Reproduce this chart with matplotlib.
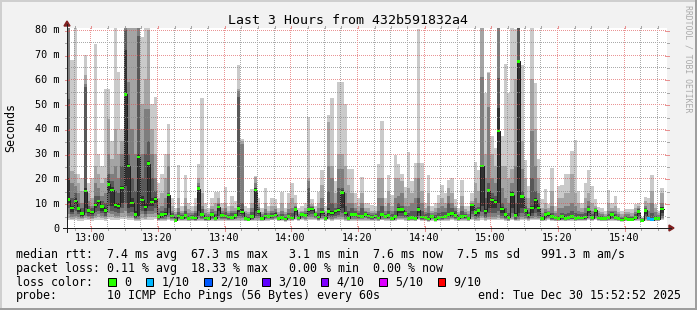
import numpy as np
import matplotlib
matplotlib.use("Agg")
import matplotlib.pyplot as plt
from matplotlib.lines import Line2D
from matplotlib.patches import Polygon, Rectangle

nan = float("nan")

# ---------------- data ----------------
title = "Last 3 Hours from 432b591832a4"
start_time = "12:53"          # first one-minute sample
time_ticks = ["13:00", "13:20", "13:40", "14:00", "14:20", "14:40", "15:00", "15:20", "15:40"]
value_ticks = [0, 10, 20, 30, 40, 50, 60, 70, 80]
value_tick_labels = ["0", "10 m", "20 m", "30 m", "40 m", "50 m", "60 m", "70 m", "80 m"]
y_top = 80.8

# median rtt per minute (ms)
med = [
    11.5, 8.0, 11.0, 7.8, 5.8, 15.0, 7.0, 6.5, 9.3, 11.0, 8.6, 7.0, 17.6, 15.4, 9.2, 8.9, 16.2, 54.0, 25.0, 10.0, 5.4, 28.7, 11.4, 8.5, 26.0, 10.6, 11.7, 4.6, 5.4, 5.7,
    13.3, 4.8, 3.1, 4.8, 4.2, 5.0, 3.9, 4.2, 4.0, 15.9, 5.4, 4.0, 3.8, 5.4, 3.9, 8.5, 5.1, 4.8, 4.4, 4.2, 5.1, 7.8, 6.5, 3.9, 3.5, 4.6, 15.4, 6.6, 3.8, 4.8,
    4.6, 4.8, 5.3, 3.8, 4.2, 3.6, 4.6, 4.0, 7.4, 4.0, 5.4, 5.1, 7.4, 7.7, 5.4, 4.4, 6.5, 3.9, 6.7, 6.0, 6.8, 7.3, 14.4, 6.0, 3.9, 5.4, 5.4, 4.8, 4.7, 5.5,
    4.8, 4.4, 4.8, 4.0, 5.4, 4.6, 5.0, 3.8, 4.7, 7.4, 7.4, 5.8, 3.9, 4.2, 3.9, 7.4, 4.4, 4.2, 3.6, 4.6, 3.5, 4.2, 4.4, 4.7, 5.4, 5.9, 5.1, 3.9, 4.6, 4.8,
    3.9, 9.3, 6.2, 7.1, 25.0, 6.9, 15.1, 11.3, 10.6, 39.2, 7.7, 5.4, 4.3, 13.5, 5.0, 67.3, 12.8, 7.1, 5.3, 8.1, 11.4, 8.1, 3.8, 5.4, 5.8, 4.7, 4.2, 3.8, 4.7, 3.9,
    4.3, 4.6, 3.9, 4.2, 4.0, 4.4, 7.4, 4.2, 7.1, 4.0, 3.8, 3.9, 4.2, 5.4, 4.3, 3.8, 3.2, 3.8, 3.5, 3.5, 4.2, 6.6, 3.1, 7.1, 3.9, 3.4, 3.9, 3.8, 7.7, nan,
]

# lost pings (out of 10) per minute
loss = [
    0, 0, 0, 0, 0, 0, 0, 0, 0, 0, 0, 0, 0, 0, 0, 0, 0, 0, 0, 0, 0, 0, 0, 0, 0, 0, 0, 0, 0, 0,
    0, 0, 0, 0, 0, 0, 0, 0, 0, 0, 0, 0, 0, 0, 0, 0, 0, 0, 0, 0, 0, 0, 0, 0, 0, 0, 0, 0, 0, 0,
    0, 0, 0, 0, 0, 0, 0, 0, 0, 0, 0, 0, 0, 0, 0, 0, 0, 0, 0, 0, 0, 0, 0, 0, 0, 0, 0, 0, 0, 0,
    0, 0, 0, 0, 0, 0, 0, 0, 0, 0, 0, 0, 0, 0, 0, 0, 0, 0, 0, 0, 0, 0, 0, 0, 0, 0, 0, 0, 0, 0,
    0, 0, 0, 0, 0, 0, 0, 0, 0, 0, 0, 0, 0, 0, 0, 0, 0, 0, 0, 0, 0, 0, 0, 0, 0, 0, 0, 0, 0, 0,
    0, 0, 0, 0, 0, 0, 0, 0, 0, 0, 0, 0, 0, 0, 0, 0, 0, 0, 0, 0, 0, 0, 0, 0, 1, 1, 0, 0, 0, 0,
]

# sorted ping values (smoke): upper half p10..p6, lower half p1..p5
p10 = [
    95, 68, 90, 22, 20, 70, 18, 20, 74.5, 30, 25, 56, 56, 35, 85, 63, 40, 95, 95, 95, 95, 95, 77, 90, 90, 50, 53, 18, 22, 30,
    42, 12, 8, 25.5, 9, 21.4, 10, 9, 12, 25.7, 52.7, 10, 8, 12, 14.7, 14.7, 10, 16.6, 9, 13, 11, 66, 36, 9, 8, 15.6, 21, 12, 8, 16,
    9, 12.3, 11.6, 8, 14.7, 8, 14.3, 18.3, 13.3, 8, 9, 10.2, 45, 11.6, 9, 14.5, 23.4, 9, 45.5, 52.7, 19, 59, 59, 50, 23.7, 23.7, 14.3, 12.3, 20.7, 10,
    10.2, 9.3, 9, 26, 43.2, 12, 21.4, 13.3, 29.5, 25.7, 21.7, 16.6, 30.7, 19, 26.4, 80.5, 26.4, 10.2, 21.4, 9, 10.2, 13.3, 17.2, 14.3, 19.4, 20, 11.6, 8, 19.4, 9,
    8.9, 14.3, 26.7, 23.4, 95, 54.7, 63, 37, 32.5, 95, 37, 66.4, 54.7, 95, 80.5, 95, 66, 27.3, 17, 95, 58.7, 27.7, 11.6, 15.6, 9.6, 24.4, 8.9, 17, 17.5, 21.7,
    22, 31, 35.6, 15, 10.2, 18.3, 23.4, 17, 11.6, 8.5, 8, 6.8, 15.4, 10.2, 12.9, 8, 7, 7.8, 7.5, 7.5, 9.6, 10, 4.5, 12.5, 12, 21.4, 9.6, 6.8, 16, nan,
]
p9 = [
    92, 23, 22, 18, 15, 62, 14, 12, 25, 22, 18, 20, 44, 28, 40, 30, 35, 90, 88, 85, 82, 90, 50, 60, 80, 40, 30, 12, 14, 20,
    30, 9, 6.5, 12, 7, 12, 7.5, 7, 9, 20, 14, 7.5, 6.5, 9, 10, 12, 8, 10, 7, 9, 8, 56, 35, 7, 6.5, 10, 20.5, 10, 6.5, 10,
    7, 9, 9, 6.5, 10, 6.5, 10, 12, 10, 6.5, 7, 8, 20, 9.5, 7, 10, 17.4, 7, 42.8, 25, 14, 30, 30, 25, 17.4, 14, 10, 9, 14, 8,
    8, 7, 7, 20, 20, 9, 15, 9, 20, 20, 19, 12, 16, 14, 20, 26.4, 15, 8, 14, 7, 8, 10, 12, 10, 16, 14, 9, 6.5, 13, 7.5,
    7, 11, 18, 15, 92, 30, 62.8, 30, 25, 92, 25, 25, 20, 23.7, 60, 93, 35, 20, 12, 60, 40, 20, 8, 10, 8, 15, 7, 12, 12, 14,
    14, 22, 14, 10, 8, 12, 14, 10, 9, 7, 6.5, 5.8, 10, 8, 9, 6.5, 5.5, 6.5, 6.5, 6, 8, 9, 4.2, 11, 10, 15, 8, 6, 14, nan,
]
p8 = [
    88, 18, 17, 14, 10, 58, 11, 9, 18, 16, 13, 14, 30, 22, 25, 20, 30, 85, 59, 40, 30, 85, 30, 48, 48, 30, 20, 8, 9, 12,
    25, 7, 5.5, 8, 6, 9, 6, 6, 7, 18, 9, 6, 5.5, 7.5, 7, 10, 7, 8, 6, 7, 7, 55.3, 34, 6, 5.5, 8, 18, 8.5, 5.5, 7.5,
    6, 7, 7.5, 5.5, 7, 5.5, 7.5, 8, 9, 5.5, 6.5, 7, 19, 9, 6.5, 8, 12, 5.5, 25, 20, 10, 24, 23.7, 14, 10, 10, 8, 7, 10, 7,
    6.5, 6, 6, 12, 12, 7, 10, 7, 12, 13, 14, 9, 9, 10, 12, 20, 10, 6.5, 9, 6, 6.5, 8, 9, 8, 13, 10, 8, 5.5, 9, 6.5,
    5.5, 10, 12, 10, 61, 20, 49, 20, 18, 88, 16, 12, 10, 18, 25, 90, 23.7, 12, 8, 39, 25, 14, 6, 7.5, 7, 9, 6, 8, 8, 9,
    9, 10, 9, 7, 6.5, 8, 11, 7, 8, 6, 5.5, 5, 7, 7, 7, 5.5, 4.5, 5.5, 5.5, 5, 6.5, 8, 4, 9, 7, 10, 6.5, 5.2, 10, nan,
]
p7 = [
    52, 12, 14, 10, 8, 57, 9, 8, 13, 13, 11, 10, 22, 19, 15, 14, 25, 80, 30, 20, 15, 77.6, 20, 30, 35, 20, 15, 6, 7, 8,
    14, 6, 4.5, 6.5, 5.2, 7, 5, 5.2, 6, 17, 7.5, 5, 4.8, 6.5, 5.5, 9.5, 6, 6.5, 5.2, 6, 6, 53, 10, 5, 4.6, 6.5, 16, 7.5, 4.8, 6,
    5.3, 6, 6.3, 4.6, 5.5, 4.4, 6, 6, 8.3, 4.8, 6, 6, 16, 8.5, 6.2, 6, 8, 4.8, 15, 10, 8, 16, 16, 9, 7, 8, 7, 6, 8, 6.3,
    5.6, 5.2, 5.5, 7, 9, 5.8, 7, 5.5, 7, 10, 9, 7, 6, 7, 7, 12, 7, 5.5, 6, 5.3, 5.3, 6, 6.5, 6.5, 10, 8, 7, 4.8, 7, 5.8,
    4.6, 9.8, 8, 8.5, 25.5, 12, 18, 14, 13, 60.5, 10, 8, 6, 15, 10, 88, 15, 9, 6.5, 20, 15, 10, 4.8, 6.5, 6.5, 6, 5, 5, 6, 5.5,
    6, 7, 6, 5.5, 5.5, 6, 9, 5.5, 7.5, 5, 4.8, 4.6, 5.5, 6.5, 5.5, 4.8, 4, 4.8, 4.5, 4.5, 5.5, 7.5, 3.7, 8, 5, 6, 5, 4.6, 8.5, nan,
]
p6 = [
    20, 9, 12, 8.5, 6.5, 16, 7.5, 7, 10, 11.5, 9, 8, 19, 16.5, 10, 10, 17, 72, 26, 12, 7, 30, 13, 10, 27, 12, 12.5, 5, 6, 6.5,
    13.5, 5.3, 3.6, 5.3, 4.6, 5.6, 4.4, 4.6, 4.5, 16.5, 6, 4.4, 4.2, 5.9, 4.3, 9, 5.5, 5.3, 4.8, 4.7, 5.6, 9, 7.5, 4.3, 4, 5.1, 16, 7, 4.2, 5.3,
    5.0, 5.3, 5.9, 4.2, 4.7, 4.0, 5.1, 4.5, 8, 4.4, 5.8, 5.6, 8, 8.2, 5.9, 4.9, 7, 4.3, 8, 7, 7.3, 8, 15.5, 6.5, 4.4, 6, 6, 5.3, 5.2, 6,
    5.3, 4.9, 5.3, 4.5, 6, 5.1, 5.6, 4.3, 5.2, 8.5, 8, 6.4, 4.4, 4.7, 4.4, 8.5, 4.9, 4.7, 4.1, 5.1, 4.0, 4.7, 4.9, 5.2, 6, 6.5, 5.7, 4.4, 5.1, 5.3,
    4.3, 9.5, 6.8, 7.7, 25.2, 7.5, 15.8, 12, 11.5, 48.5, 8.3, 6, 5, 14.5, 6, 67.5, 13.5, 7.7, 5.8, 9, 12, 8.8, 4.2, 5.9, 6.2, 5.1, 4.6, 4.1, 5.1, 4.3,
    5, 5.2, 4.4, 4.8, 4.6, 5, 8, 4.8, 7.5, 4.6, 4.3, 4.4, 4.8, 6, 4.9, 4.3, 3.7, 4.3, 4.0, 4.0, 4.8, 7.2, 3.4, 7.7, 4.5, 4.0, 4.5, 4.3, 8.3, nan,
]
p5 = [
    10, 6.5, 9.5, 6.5, 5, 8, 6, 5.5, 8, 9.5, 7, 6, 14, 9, 8, 7.5, 10, 17, 8, 8.5, 4.5, 5, 9, 7, 9, 9, 10, 4, 4.5, 4.8,
    8, 4.4, 3.3, 4.4, 3.9, 4.4, 3.6, 3.9, 3.6, 7, 4.8, 3.6, 3.5, 4.8, 3.6, 7, 4.6, 4.4, 4.0, 3.8, 4.6, 6.5, 5.5, 3.6, 3.3, 4.2, 7, 5.8, 3.5, 4.4,
    4.2, 4.4, 4.7, 3.5, 3.9, 3.3, 4.2, 3.7, 6.5, 3.7, 4.9, 4.7, 6.5, 7, 4.9, 4.0, 5.8, 3.6, 5.8, 5.3, 6, 6.4, 8, 5.3, 3.6, 4.8, 4.8, 4.3, 4.3, 5.0,
    4.4, 4.0, 4.4, 3.7, 4.8, 4.2, 4.5, 3.5, 4.3, 6, 6, 5.1, 3.6, 3.9, 3.6, 6, 4.0, 3.9, 3.3, 4.2, 3.3, 3.9, 4.0, 4.3, 4.8, 5.2, 4.6, 3.6, 4.2, 4.4,
    3.5, 7, 5, 5.5, 9, 5.5, 8, 8, 8, 10, 6, 4.5, 3.8, 8, 4.3, 6, 8, 6, 4.5, 6, 8, 6.5, 3.5, 4.6, 5, 4.1, 3.8, 3.5, 4.1, 3.6,
    3.9, 4.1, 3.6, 3.9, 3.7, 4.0, 6, 3.9, 6, 3.7, 3.5, 3.6, 3.9, 4.8, 3.9, 3.5, 3.0, 3.5, 3.3, 3.3, 3.8, 5.5, 2.8, 5.5, 3.6, 3.2, 3.6, 3.5, 6, nan,
]
p4 = [
    8, 5.5, 7, 5.5, 4.5, 6, 5, 4.8, 6.5, 7, 6, 5, 9, 7, 6.5, 6, 8, 10, 6, 6.5, 4, 4.3, 7, 5.5, 7, 7, 8, 3.7, 4, 4.3,
    6, 4.0, 3.1, 4.0, 3.6, 4.0, 3.4, 3.6, 3.4, 5, 4.2, 3.4, 3.3, 4.2, 3.4, 5, 4.1, 4.0, 3.7, 3.5, 4.1, 5, 4.6, 3.4, 3.1, 3.8, 5, 4.8, 3.3, 4.0,
    3.9, 4.0, 4.3, 3.3, 3.6, 3.1, 3.9, 3.5, 5.3, 3.5, 4.4, 4.3, 5.3, 5.8, 4.4, 3.7, 4.8, 3.4, 4.8, 4.5, 5, 5.3, 6, 4.5, 3.4, 4.3, 4.3, 3.9, 3.9, 4.4,
    4.0, 3.7, 4.0, 3.5, 4.3, 3.9, 4.1, 3.3, 3.9, 5, 5, 4.5, 3.4, 3.6, 3.4, 5, 3.7, 3.6, 3.1, 3.9, 3.1, 3.6, 3.7, 3.9, 4.3, 4.6, 4.2, 3.4, 3.9, 4.0,
    3.3, 5.5, 4.3, 4.5, 6.5, 4.5, 6, 6, 6, 7, 5, 4, 3.5, 6, 3.8, 4.5, 6, 5, 4, 5, 6, 5, 3.3, 4.1, 4.4, 3.7, 3.5, 3.3, 3.7, 3.4,
    3.6, 3.8, 3.4, 3.6, 3.5, 3.7, 4.8, 3.6, 4.8, 3.5, 3.3, 3.4, 3.6, 4.2, 3.6, 3.3, 2.9, 3.3, 3.1, 3.1, 3.5, 4.5, 2.7, 4.5, 3.4, 3.1, 3.4, 3.3, 4.8, nan,
]
p3 = [
    5.5, 4.5, 5, 4.5, 4, 5, 4.3, 4.2, 5, 5.5, 5, 4.3, 6, 5.5, 5, 5, 6, 7, 5, 5, 3.7, 3.8, 5.5, 4.5, 5.5, 5.5, 6, 3.4, 3.6, 3.8,
    4.5, 3.6, 2.9, 3.6, 3.3, 3.6, 3.2, 3.3, 3.2, 4, 3.7, 3.2, 3.1, 3.7, 3.2, 4, 3.7, 3.6, 3.4, 3.3, 3.7, 4, 3.9, 3.2, 3.0, 3.4, 4, 3.9, 3.1, 3.6,
    3.6, 3.7, 3.9, 3.1, 3.3, 2.9, 3.6, 3.3, 4.3, 3.3, 3.9, 3.8, 4.3, 4.6, 3.9, 3.4, 4.0, 3.2, 4.0, 3.8, 4.1, 4.3, 4.5, 3.8, 3.2, 3.8, 3.8, 3.5, 3.5, 3.9,
    3.6, 3.4, 3.6, 3.2, 3.8, 3.5, 3.7, 3.1, 3.5, 4.2, 4.2, 3.9, 3.2, 3.4, 3.2, 4.2, 3.4, 3.4, 3.0, 3.5, 2.9, 3.4, 3.4, 3.5, 3.8, 4.0, 3.7, 3.2, 3.5, 3.6,
    3.1, 4.3, 3.8, 3.9, 5, 3.9, 4.6, 4.6, 4.6, 5.2, 4.2, 3.6, 3.2, 4.6, 3.4, 3.8, 4.6, 4.2, 3.6, 4.2, 4.6, 4.2, 3.1, 3.7, 3.9, 3.4, 3.3, 3.1, 3.4, 3.2,
    3.3, 3.5, 3.2, 3.4, 3.3, 3.4, 4.0, 3.4, 4.0, 3.3, 3.1, 3.2, 3.4, 3.7, 3.4, 3.1, 2.8, 3.1, 3.0, 3.0, 3.3, 3.8, 2.6, 3.8, 3.2, 3.0, 3.2, 3.1, 4.0, nan,
]
p2 = [
    4, 3.8, 4, 3.8, 3.5, 4, 3.7, 3.6, 4, 4.3, 4, 3.7, 4.5, 4.3, 4, 4, 4.5, 5, 4, 4, 3.3, 3.4, 4.2, 3.8, 4.3, 4.3, 4.5, 3.1, 3.2, 3.3,
    3.8, 3.3, 2.8, 3.3, 3.1, 3.3, 3.0, 3.1, 3.0, 3.4, 3.3, 3.0, 2.9, 3.3, 3.0, 3.4, 3.3, 3.3, 3.1, 3.1, 3.3, 3.4, 3.4, 3.0, 2.9, 3.1, 3.4, 3.4, 2.9, 3.3,
    3.3, 3.4, 3.5, 2.9, 3.1, 2.8, 3.3, 3.1, 3.6, 3.1, 3.5, 3.4, 3.6, 3.8, 3.5, 3.2, 3.5, 3.0, 3.5, 3.3, 3.5, 3.6, 3.7, 3.3, 3.0, 3.4, 3.4, 3.2, 3.2, 3.4,
    3.3, 3.2, 3.3, 3.0, 3.4, 3.2, 3.3, 2.9, 3.2, 3.6, 3.6, 3.4, 3.0, 3.1, 3.0, 3.6, 3.2, 3.1, 2.8, 3.2, 2.8, 3.1, 3.2, 3.2, 3.4, 3.5, 3.3, 3.0, 3.2, 3.3,
    2.9, 3.6, 3.3, 3.4, 4, 3.4, 3.8, 3.8, 3.8, 4.1, 3.6, 3.2, 3.0, 3.8, 3.1, 3.3, 3.8, 3.6, 3.2, 3.6, 3.8, 3.6, 2.9, 3.3, 3.5, 3.1, 3.0, 2.9, 3.1, 2.9,
    3.1, 3.2, 3.0, 3.2, 3.1, 3.2, 3.5, 3.2, 3.5, 3.1, 2.9, 3.0, 3.2, 3.3, 3.2, 2.9, 2.7, 2.9, 2.9, 2.9, 3.1, 3.3, 2.5, 3.3, 3.0, 2.9, 3.0, 2.9, 3.5, nan,
]
p1 = [
    3.2, 3.1, 3.2, 3.0, 3.0, 3.2, 3.1, 3.0, 3.2, 3.4, 3.2, 3.0, 3.5, 3.4, 3.2, 3.2, 3.5, 3.8, 3.2, 3.2, 2.9, 3.0, 3.3, 3.1, 3.4, 3.4, 3.5, 2.8, 2.9, 3.0,
    3.2, 3.0, 2.6, 3.0, 2.9, 3.0, 2.8, 2.9, 2.8, 3.0, 3.0, 2.8, 2.7, 3.0, 2.8, 3.0, 3.0, 3.0, 2.9, 2.9, 3.0, 3.0, 3.0, 2.8, 2.7, 2.9, 3.0, 3.0, 2.7, 3.0,
    3.0, 3.1, 3.1, 2.7, 2.9, 2.6, 3.0, 2.9, 3.1, 2.9, 3.1, 3.0, 3.1, 3.2, 3.1, 2.9, 3.1, 2.8, 3.1, 3.0, 3.1, 3.1, 3.2, 3.0, 2.8, 3.0, 3.0, 2.9, 2.9, 3.0,
    3.0, 2.9, 3.0, 2.8, 3.1, 2.9, 3.0, 2.7, 2.9, 3.2, 3.2, 3.0, 2.8, 2.9, 2.8, 3.2, 2.9, 2.9, 2.6, 2.9, 2.6, 2.9, 2.9, 2.9, 3.0, 3.1, 3.0, 2.8, 2.9, 3.0,
    2.7, 3.1, 2.9, 3.0, 3.3, 3.0, 3.2, 3.2, 3.2, 3.4, 3.1, 2.9, 2.8, 3.2, 2.8, 2.9, 3.2, 3.1, 2.9, 3.1, 3.2, 3.1, 2.7, 3.0, 3.1, 2.8, 2.8, 2.7, 2.8, 2.7,
    2.9, 3.0, 2.8, 3.0, 2.9, 3.0, 3.1, 3.0, 3.1, 2.9, 2.7, 2.8, 3.0, 3.0, 3.0, 2.7, 2.6, 2.7, 2.7, 2.7, 2.9, 3.0, 2.4, 3.0, 2.8, 2.8, 2.8, 2.7, 3.1, nan,
]

loss_labels = ["0", "1/10", "2/10", "3/10", "4/10", "5/10", "9/10"]
loss_colors = ["#26ff00", "#00b8ff", "#0059ff", "#5e00ff", "#7e00ff", "#dd00ff", "#ff0000"]
loss_lo = [0, 1, 2, 3, 4, 5, 9]      # lost-ping range for each legend colour
loss_hi = [0, 1, 2, 3, 4, 8, 10]

rtt_line = "median rtt:  7.4 ms avg  67.3 ms max   3.1 ms min  7.6 ms now  7.5 ms sd   991.3 m am/s"
loss_line = "packet loss: 0.11 % avg  18.33 % max   0.00 % min  0.00 % now"
loss_caption = "loss color:"
probe_caption = "probe:"
probe_text = "10 ICMP Echo Pings (56 Bytes) every 60s"
end_text = "end: Tue Dec 30 15:52:52 2025"
y_label = "Seconds"
watermark = "RRDTOOL / TOBI OETIKER"

# ---------------- style ----------------
W, H = 697, 310
X0, Y0, XS, YS = 67, 228, 600, 200       # graph area in pixels (rrdtool layout)
BACK = "#F2F2F2"
SHADE_A = "#CFCFCF"
SHADE_B = "#9E9E9E"
GRID = (0.56, 0.56, 0.56, 0.75)
MGRID = (0.87, 0.31, 0.31, 0.60)
AXIS = (0.12, 0.12, 0.12)
ARROW = (0.50, 0.12, 0.12)
SMOKE = ["#cacaca", "#a4a4a4", "#7e7e7e", "#585858", "#323232"]
MONO = ["DejaVu Sans Mono"]
PX = 0.72  # one pixel in points at 100 dpi

fig = plt.figure(figsize=(W / 100, H / 100), dpi=100)
fig.patch.set_facecolor(BACK)


def fx(x):
    return x / W


def fy(y):
    return 1 - y / H


def fig_line(xs, ys, color, lw=PX, aa=False):
    fig.add_artist(Line2D([fx(v) for v in xs], [fy(v) for v in ys], color=color,
                          lw=lw, solid_capstyle="butt", antialiased=aa,
                          transform=fig.transFigure))


ax = fig.add_axes([fx(X0), fy(Y0), XS / W, YS / H])
ax.set_facecolor("white")
for s in ax.spines.values():
    s.set_visible(False)
ax.set_xticks([])
ax.set_yticks([])

n = len(med)


def to_min(t):
    h, m = t.split(":")
    return int(h) * 60 + int(m)


t0 = to_min(start_time)
xs_step = np.repeat(np.arange(n + 1), 2)[1:-1]


def steps(v):
    return np.repeat(np.asarray(v, dtype=float), 2)


# smoke layers (outer, light -> inner, dark)
lows = [p1, p2, p3, p4, p5]
highs = [p10, p9, p8, p7, p6]
for k in range(5):
    ax.fill_between(xs_step, steps(lows[k]), steps(highs[k]), color=SMOKE[k],
                    linewidth=0, zorder=2)

# median line
ax.plot(xs_step, steps(med), color="#202020", lw=PX, zorder=3)

# median coloured by loss
half = 1.25 * y_top / YS
med_a = np.asarray(med, dtype=float)
loss_a = np.asarray(loss)
for lo, hi, c in zip(loss_lo, loss_hi, loss_colors):
    sel = np.where((loss_a >= lo) & (loss_a <= hi), med_a, np.nan)
    if np.all(np.isnan(sel)):
        continue
    ax.fill_between(xs_step, steps(sel - half), steps(sel + half), color=c,
                    linewidth=0, zorder=4)

# dotted grid (1 px on / 1 px off), rendered pixel-exact over the graph
grid_img = np.zeros((YS, XS, 4))
total_min = n
first_grid = (5 - (t0 % 5)) % 5
v_lines = []
for m in range(first_grid, total_min + 1, 5):
    if 0 < m < total_min:
        v_lines.append((m, (t0 + m) % 20 == 0))
h_lines = [(v, v % 10 == 0) for v in range(5, 81, 5)]
for major_pass in (False, True):
    for m, major in v_lines:
        if major != major_pass:
            continue
        c = int(round(m * XS / total_min))
        grid_img[0::2, c] = MGRID if major else GRID
    for v, major in h_lines:
        if major != major_pass:
            continue
        r = YS - int(round(v * YS / y_top))
        grid_img[r, 0::2] = MGRID if major else GRID
ax.imshow(grid_img, extent=(0, n, 0, y_top), aspect="auto",
          interpolation="nearest", zorder=6)
ax.set_xlim(0, n)
ax.set_ylim(0, y_top)

# small solid ticks at the ends of grid lines
for m, major in v_lines:
    col = MGRID if major else GRID
    xp = X0 + int(round(m * XS / total_min)) + 0.5
    fig_line([xp, xp], [Y0 - YS - 2, Y0 - YS], col)
    if major:
        fig_line([xp, xp], [Y0 - 2, Y0 + 3], col)
    else:
        fig_line([xp, xp], [Y0, Y0 + 2], col)
for v, major in h_lines:
    col = MGRID if major else GRID
    yp = Y0 - YS + (YS - int(round(v * YS / y_top))) + 0.5
    if major:
        fig_line([X0 - 2, X0 + 2], [yp, yp], col)
        fig_line([X0 + XS - 2, X0 + XS + 2], [yp, yp], col)
    else:
        fig_line([X0 - 2, X0], [yp, yp], col)
        fig_line([X0 + XS, X0 + XS + 2], [yp, yp], col)

# axes with arrows
fig_line([X0 - 4, X0 + XS + 4], [Y0, Y0], AXIS)
fig_line([X0, X0], [Y0 + 4, Y0 - YS - 4], AXIS)
fig.add_artist(Polygon([[fx(X0 + XS + 2), fy(Y0 + 3)], [fx(X0 + XS + 2), fy(Y0 - 3)],
                        [fx(X0 + XS + 7), fy(Y0)]], closed=True, color=ARROW,
                       transform=fig.transFigure))
fig.add_artist(Polygon([[fx(X0 - 3), fy(Y0 - YS - 2)], [fx(X0 + 3), fy(Y0 - YS - 2)],
                        [fx(X0), fy(Y0 - YS - 7)]], closed=True, color=ARROW,
                       transform=fig.transFigure))

# tick labels
for v, lab in zip(value_ticks, value_tick_labels):
    yp = Y0 - v * YS / y_top
    fig.text(fx(X0 - 7.5), fy(yp + 3.5), lab, ha="right", va="baseline",
             fontsize=7.3, family=MONO, color="black")
for lab in time_ticks:
    m = to_min(lab) - t0
    xp = X0 + m * XS / total_min
    fig.text(fx(xp), fy(240.7), lab, ha="center", va="baseline",
             fontsize=7.3, family=MONO, color="black")

# title, vertical label, watermark
fig.text(fx(W / 2), fy(23.5), title, ha="center", va="baseline", fontsize=9.5,
         family=MONO, color="black")
fig.text(fx(11), fy(127.5), y_label, ha="center", va="center", rotation=90,
         fontsize=8.4, family=MONO, color="black")
fig.text(fx(688), fy(5), watermark, ha="center", va="top", rotation=270,
         fontsize=5.9, family=MONO, color="#AAAAAA")

# legend
LX = 16
CW = 7.0
LFS = 8.37
fig.text(fx(LX), fy(258), rtt_line, ha="left", va="baseline", fontsize=LFS, family=MONO)
fig.text(fx(LX), fy(271.7), loss_line, ha="left", va="baseline", fontsize=LFS, family=MONO)
fig.text(fx(LX), fy(285.6), loss_caption, ha="left", va="baseline", fontsize=LFS, family=MONO)
bx = 108.3
for lab, c in zip(loss_labels, loss_colors):
    fig.add_artist(Rectangle((fx(bx), fy(286.3)), 7.5 / W, 8.3 / H, facecolor=c,
                             edgecolor="black", lw=PX, transform=fig.transFigure))
    tx = bx + 15.7
    fig.text(fx(tx), fy(285.6), lab, ha="left", va="baseline", fontsize=LFS, family=MONO)
    bx = tx + len(lab) * CW + 14.7
fig.text(fx(LX), fy(299.3), probe_caption, ha="left", va="baseline", fontsize=LFS, family=MONO)
fig.text(fx(107.3), fy(299.3), probe_text, ha="left", va="baseline", fontsize=LFS, family=MONO)
fig.text(fx(478.3), fy(299.3), end_text, ha="left", va="baseline", fontsize=LFS, family=MONO)

# 3D frame
fig_line([0, W], [1, 1], SHADE_A, lw=2 * PX)
fig_line([1, 1], [0, H], SHADE_A, lw=2 * PX)
fig_line([0, W], [H - 1, H - 1], SHADE_B, lw=2 * PX)
fig_line([W - 1, W - 1], [0, H], SHADE_B, lw=2 * PX)

fig.savefig("out.png", dpi=100, facecolor=BACK)
